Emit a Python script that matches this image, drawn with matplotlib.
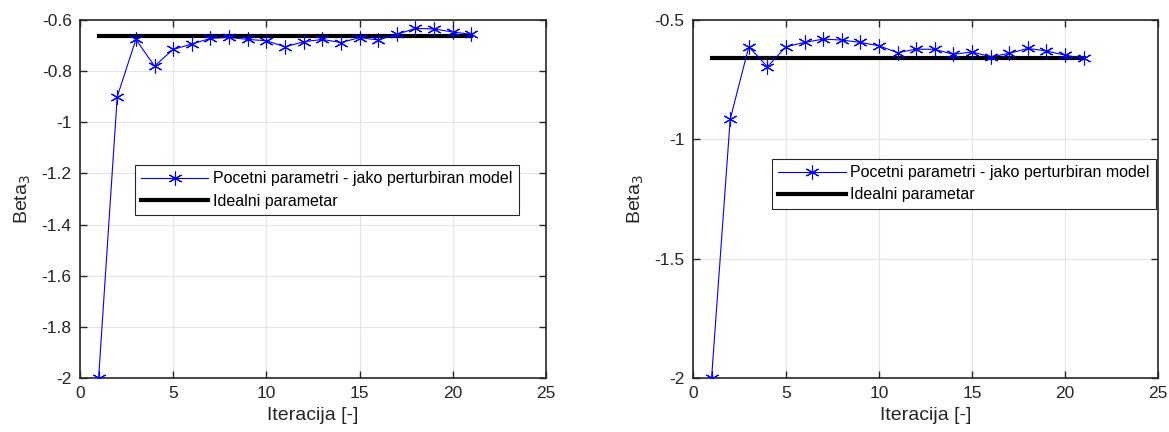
import matplotlib.pyplot as plt

plt.rcParams['font.family'] = ['Liberation Sans', 'DejaVu Sans']

iterations = list(range(1, 22))

beta3_left = [-2.0, -0.90, -0.676, -0.78, -0.715, -0.694, -0.672, -0.668, -0.676, -0.681,
              -0.705, -0.685, -0.676, -0.688, -0.669, -0.678, -0.656, -0.633, -0.635, -0.647,
              -0.656]
ideal_left = -0.661

beta3_right = [-2.0, -0.916, -0.612, -0.696, -0.612, -0.594, -0.580, -0.584, -0.594, -0.608,
               -0.637, -0.622, -0.623, -0.644, -0.634, -0.654, -0.640, -0.619, -0.630, -0.647,
               -0.661]
ideal_right = -0.661

series_label = "Pocetni parametri - jako perturbiran model"
ideal_label = "Idealni parametar"

fig = plt.figure(figsize=(11.69, 4.32), dpi=100)
ax1 = fig.add_axes([0.0684, 0.125, 0.3986, 0.8287])
ax2 = fig.add_axes([0.5928, 0.125, 0.3978, 0.8287])

panels = [
    (ax1, beta3_left, ideal_left, (-2, -0.6), [-2, -1.8, -1.6, -1.4, -1.2, -1, -0.8, -0.6],
     ['-2', '-1.8', '-1.6', '-1.4', '-1.2', '-1', '-0.8', '-0.6'], (0.118, 0.595)),
    (ax2, beta3_right, ideal_right, (-2, -0.5), [-2, -1.5, -1, -0.5],
     ['-2', '-1.5', '-1', '-0.5'], (0.17, 0.612)),
]

for ax, vals, ideal, ylim, yticks, ylabels, legpos in panels:
    ax.plot(iterations, vals, color='blue', lw=0.8, marker=(6, 2, 0), ms=10,
            mew=0.8, label=series_label, zorder=3)
    ax.plot([iterations[0], iterations[-1]], [ideal, ideal], color='black', lw=3,
            label=ideal_label, zorder=2)
    ax.set_xlim(0, 25)
    ax.set_ylim(*ylim)
    ax.set_xticks([0, 5, 10, 15, 20, 25])
    ax.set_yticks(yticks)
    ax.set_yticklabels(ylabels)
    ax.grid(True, color='#e3e3e3', lw=0.8)
    ax.set_axisbelow(True)
    ax.tick_params(direction='in', top=True, right=True, labelsize=12.5,
                   colors='#262626', length=5, width=1, pad=6)
    for s in ax.spines.values():
        s.set_color('#262626')
        s.set_linewidth(1.2)
    ax.set_xlabel("Iteracija [-]", fontsize=14, color='#262626', labelpad=4)
    ax.set_ylabel("Beta$_3$", fontsize=14, color='#262626', labelpad=6)
    leg = ax.legend(loc='upper left', bbox_to_anchor=legpos, borderaxespad=0,
                    fontsize=11.5, fancybox=False, framealpha=1, edgecolor='#262626',
                    handlelength=4.2, borderpad=0.4, labelspacing=0.45, handletextpad=0.3)
    leg.get_frame().set_linewidth(0.8)

fig.savefig("out.png", dpi=100)
